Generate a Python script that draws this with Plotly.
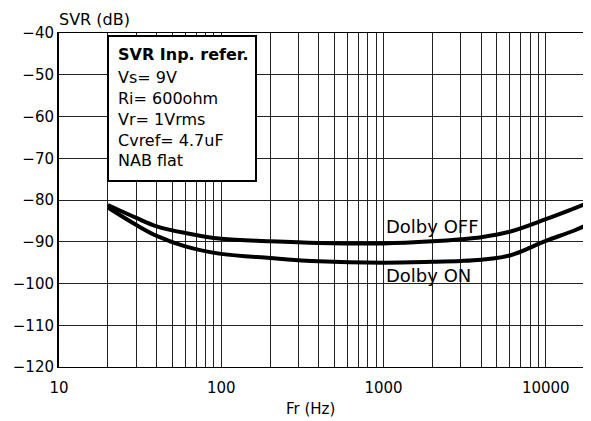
import math
import plotly.graph_objects as go

# Data
freq_hz = [20, 30, 40, 60, 100, 200, 400, 1000, 2000, 3000, 4000, 6000, 10000, 15000, 20000]
svr_dolby_off = [-81.2, -84.3, -86.3, -87.9, -89.3, -89.9, -90.3, -90.4, -89.9, -89.4, -88.9, -87.6, -84.6, -82.0, -80.1]
svr_dolby_on = [-81.8, -86.0, -88.6, -91.1, -92.9, -93.9, -94.7, -95.0, -94.8, -94.6, -94.3, -93.3, -89.8, -87.3, -85.1]

x_tick_vals = [m * 10 ** e for e in range(1, 5) for m in range(1, 10)] + [20000]
x_tick_text = [str(v) if str(v).strip("0") == "1" else "" for v in x_tick_vals]
y_tick_vals = [-120, -110, -100, -90, -80, -70, -60, -50, -40]

box_lines = ["<b>SVR Inp. refer.</b>", "Vs= 9V", "Ri= 600ohm", "Vr= 1Vrms", "Cvref= 4.7uF", "NAB flat"]

FONT = "DejaVu Sans, Arial, sans-serif"
OFF = 8  # page body margin
W, H = 591 - OFF, 421 - OFF
PX0, PX1, PY0, PY1 = 59, 591, 33, 367  # plot area in window pixels
L, R, T, B = PX0 - OFF, 0, PY0 - OFF, H - (PY1 - OFF)

def px_x(px):
    return (px - PX0) / (PX1 - PX0)

def px_y(py):
    return (PY1 - py) / (PY1 - PY0)

fig = go.Figure()
fig.add_trace(go.Scatter(x=freq_hz, y=svr_dolby_off, mode="lines",
                         line=dict(color="black", width=4, shape="spline"), name="Dolby OFF"))
fig.add_trace(go.Scatter(x=freq_hz, y=svr_dolby_on, mode="lines",
                         line=dict(color="black", width=4, shape="spline"), name="Dolby ON"))

fig.update_layout(
    width=W, height=H,
    margin=dict(l=L, r=R, t=T, b=B, pad=0),
    paper_bgcolor="white", plot_bgcolor="white",
    showlegend=False,
    font=dict(family=FONT, size=15, color="black"),
    xaxis=dict(type="log", range=[1, math.log10(19000)],
               tickvals=x_tick_vals, ticktext=x_tick_text,
               showgrid=True, gridcolor="#222", gridwidth=1,
               showline=True, linecolor="black", linewidth=1, mirror=True,
               ticks="", zeroline=False, tickfont=dict(size=15), ticklabelstandoff=7),
    yaxis=dict(range=[-120, -40], tickvals=y_tick_vals,
               showgrid=True, gridcolor="#222", gridwidth=1,
               showline=True, linecolor="black", linewidth=2,
               ticks="", zeroline=False, tickfont=dict(size=15)),
)

# Info box
fig.add_shape(type="rect", xref="paper", yref="paper",
              x0=px_x(108), x1=px_x(256), y0=px_y(181), y1=px_y(36),
              line=dict(color="black", width=2), fillcolor="white", layer="above")
line_y = [55, 77, 98.5, 119.5, 140, 160.5]
for txt, yy in zip(box_lines, line_y):
    fig.add_annotation(text=txt, xref="paper", yref="paper", x=px_x(116), y=px_y(yy),
                       xanchor="left", yanchor="middle", showarrow=False,
                       font=dict(size=16, family=FONT))

fig.add_annotation(text="SVR (dB)", xref="paper", yref="paper", x=px_x(57), y=px_y(8.5),
                   xanchor="left", yanchor="top", showarrow=False, font=dict(size=16, family=FONT))
fig.add_annotation(text="Fr (Hz)", xref="paper", yref="paper", x=px_x(310.5), y=px_y(409),
                   xanchor="center", yanchor="middle", showarrow=False, font=dict(size=15, family=FONT))
fig.add_annotation(text="Dolby OFF", xref="paper", yref="paper", x=px_x(384), y=px_y(226.5),
                   xanchor="left", yanchor="middle", showarrow=False, font=dict(size=18, family=FONT))
fig.add_annotation(text="Dolby ON", xref="paper", yref="paper", x=px_x(384), y=px_y(275),
                   xanchor="left", yanchor="middle", showarrow=False, font=dict(size=18, family=FONT))

fig.write_html("out.html")
